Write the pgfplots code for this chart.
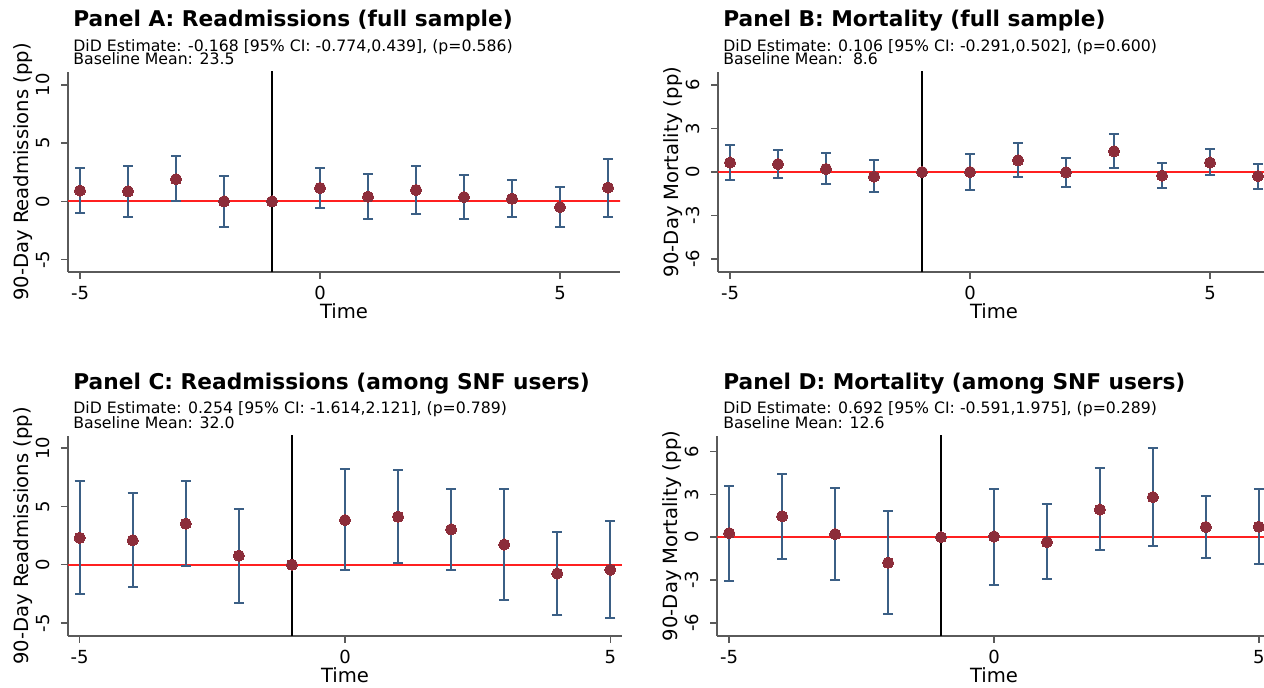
\documentclass[border=0pt]{standalone}
\usepackage{fontspec}
\setmainfont{DejaVu Sans}
\usepackage{pgfplots}
\pgfplotsset{compat=1.18}
\usepackage{pgfplotstable}

\definecolor{mk}{HTML}{8C2D3A}
\definecolor{eb}{HTML}{3B5F85}
\definecolor{ax}{HTML}{5A5A5A}
\definecolor{rl}{HTML}{FF2020}

\pgfplotstableread{
t b lo hi
-5 0.92 -1.03 2.90
-4 0.86 -1.32 3.07
-3 1.90 0.00 3.91
-2 0.00 -2.18 2.18
-1 0 0 0
0 1.15 -0.60 2.90
1 0.40 -1.52 2.39
2 0.98 -1.12 3.07
3 0.37 -1.52 2.27
4 0.23 -1.32 1.84
5 -0.49 -2.18 1.24
6 1.18 -1.32 3.62
}\tabA
\pgfplotstableread{
t b lo hi
-5 0.65 -0.53 1.84
-4 0.55 -0.41 1.52
-3 0.21 -0.83 1.31
-2 -0.32 -1.41 0.83
-1 0 0 0
0 0.00 -1.22 1.22
1 0.81 -0.37 1.98
2 -0.02 -1.04 0.99
3 1.43 0.25 2.63
4 -0.25 -1.11 0.62
5 0.65 -0.21 1.57
6 -0.28 -1.15 0.58
}\tabB
\pgfplotstableread{
t b lo hi
-5 2.31 -2.51 7.15
-4 2.10 -1.93 6.11
-3 3.52 -0.14 7.15
-2 0.78 -3.31 4.81
-1 0 0 0
0 3.83 -0.46 8.24
1 4.12 0.14 8.10
2 3.03 -0.46 6.51
3 1.73 -3.03 6.51
4 -0.75 -4.29 2.82
5 -0.43 -4.55 3.75
}\tabC
\pgfplotstableread{
t b lo hi
-5 0.28 -3.04 3.60
-4 1.46 -1.53 4.45
-3 0.21 -2.99 3.44
-2 -1.79 -5.41 1.81
-1 0 0 0
0 0.05 -3.34 3.36
1 -0.35 -2.94 2.31
2 1.93 -0.92 4.85
3 2.80 -0.64 6.24
4 0.71 -1.44 2.87
5 0.73 -1.86 3.34
}\tabD

\pgfplotsset{
  ev/.style={
    scale only axis, height=100pt,
    axis x line*=bottom, axis y line*=left,
    axis line style={draw=ax, line width=0.75pt},
    tick style={draw=ax, line width=0.75pt},
    tick align=outside, major tick length=3.5pt,
    xtick={-5,0,5},
    /pgf/number format/assume math mode=true,
    ticklabel style={font=\fontsize{9}{9}\selectfont},
    yticklabel style={rotate=90, anchor=base},
    yticklabel shift=6pt,
    xticklabel style={anchor=north},
    xlabel={Time},
    every axis x label/.style={at={([yshift=-23.5pt]axis description cs:0.5,0)}, anchor=base, font=\fontsize{9.8}{10}\selectfont},
    every axis y label/.style={at={([xshift=-20pt]axis description cs:0,0.5)}, rotate=90, anchor=base, font=\fontsize{9.8}{10}\selectfont},
  }
}

\newcommand{\evplot}[1]{%
  \addplot[rl, line width=1.1pt] coordinates {(-7,0) (7,0)};
  \addplot[black, line width=0.75pt] coordinates {(-1,-8) (-1,12)};
  \addplot[draw=none, mark=none, skip coords between index={4}{5},
    error bars/.cd, y dir=both, y explicit, error mark=|,
    error bar style={draw=eb, line width=1pt},
    error mark options={draw=eb, mark size=2.5pt, line width=1pt}]
    table[x=t, y=b, y error plus expr=\thisrow{hi}-\thisrow{b}, y error minus expr=\thisrow{b}-\thisrow{lo}] {#1};
  \addplot[only marks, mark=*, mark size=2.8pt, mark options={fill=mk, draw=mk, line width=0pt}] table[x=t, y=b] {#1};
}

\begin{document}
\begin{tikzpicture}
\path[use as bounding box] (0,0) rectangle (632pt,344pt);

\begin{axis}[ev, at={(34pt,208pt)}, anchor=south west, width=276pt,
  xmin=-5.25, xmax=6.25, ymin=-6.06, ymax=11.1, ytick={-5,0,5,10},
  ylabel={90-Day Readmissions (pp)}]
\evplot{\tabA}
\end{axis}

\begin{axis}[ev, at={(359pt,208pt)}, anchor=south west, width=276pt,
  xmin=-5.25, xmax=6.25, ymin=-6.9, ymax=6.9, ytick={-6,-3,0,3,6},
  ylabel={90-Day Mortality (pp)}]
\evplot{\tabB}
\end{axis}

\begin{axis}[ev, at={(34pt,26pt)}, anchor=south west, width=277pt,
  xmin=-5.22, xmax=5.22, ymin=-6.11, ymax=11.04, ytick={-5,0,5,10},
  ylabel={90-Day Readmissions (pp)}]
\evplot{\tabC}
\end{axis}

\begin{axis}[ev, at={(358.5pt,26pt)}, anchor=south west, width=277pt,
  xmin=-5.23, xmax=5.23, ymin=-6.92, ymax=7.08, ytick={-6,-3,0,3,6},
  ylabel={90-Day Mortality (pp)}]
\evplot{\tabD}
\end{axis}

\tikzset{ttl/.style={anchor=base west, inner sep=0pt, font=\fontsize{10.85}{12}\selectfont\bfseries},
         sub/.style={anchor=base west, inner sep=0pt, font=\fontsize{7.85}{8}\selectfont}}
\node[ttl] at (36.5pt,330.65pt) {Panel A: Readmissions (full sample)};
\node[sub] at (36.5pt,318.15pt) {DiD Estimate: -0.168 [95\% CI: -0.774,0.439], (p=0.586)};
\node[sub] at (36.5pt,311.65pt) {Baseline Mean: 23.5};

\node[ttl] at (361.5pt,330.65pt) {Panel B: Mortality (full sample)};
\node[sub] at (361.5pt,318.15pt) {DiD Estimate: 0.106 [95\% CI: -0.291,0.502], (p=0.600)};
\node[sub] at (361.5pt,311.65pt) {Baseline Mean:~~8.6};

\node[ttl] at (36.5pt,149pt) {Panel C: Readmissions (among SNF users)};
\node[sub] at (36.5pt,137pt) {DiD Estimate: 0.254 [95\% CI: -1.614,2.121], (p=0.789)};
\node[sub] at (36.5pt,129.65pt) {Baseline Mean: 32.0};

\node[ttl] at (361.5pt,149pt) {Panel D: Mortality (among SNF users)};
\node[sub] at (361.5pt,137pt) {DiD Estimate: 0.692 [95\% CI: -0.591,1.975], (p=0.289)};
\node[sub] at (361.5pt,129.65pt) {Baseline Mean: 12.6};
\end{tikzpicture}
\end{document}
